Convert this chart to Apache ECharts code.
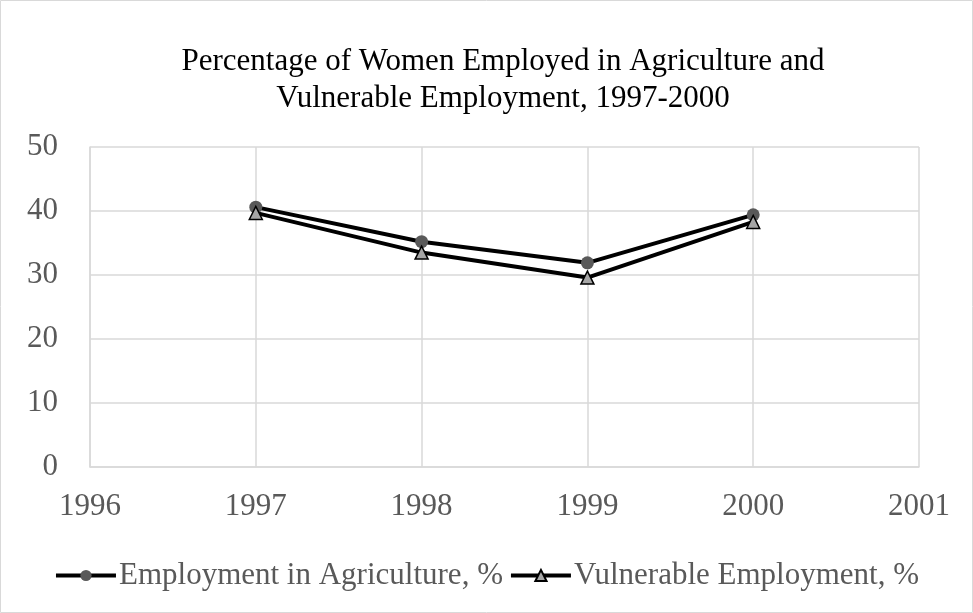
<!DOCTYPE html>
<html><head><meta charset="utf-8">
<script src="https://cdn.jsdelivr.net/npm/echarts@6/dist/echarts.min.js"></script>
<style>html,body{margin:0;padding:0;background:#fff}#c{width:973px;height:613px}</style>
</head><body><div id="c"></div>
<script>
const years = [1997, 1998, 1999, 2000];
const agriculture = [40.6, 35.2, 31.9, 39.4];
const vulnerable = [39.7, 33.5, 29.6, 38.3];
const xTicks = [1996, 1997, 1998, 1999, 2000, 2001];
const yTicks = [0, 10, 20, 30, 40, 50];

const chart = echarts.init(document.getElementById('c'));
const font = 'Liberation Serif, Times New Roman, serif';
chart.setOption({
  animation: false,
  graphic: [{type:'rect', shape:{x:0.5,y:0.5,width:972,height:612}, style:{fill:'none', stroke:'#d9d9d9', lineWidth:1}, silent:true}],
  title: {
    text: 'Percentage of Women Employed in Agriculture and\nVulnerable Employment, 1997-2000',
    left: 498, top: 38, textAlign: 'center',
    textStyle: {fontFamily: font, fontSize: 31, fontWeight: 'normal', color: '#000', lineHeight: 37}
  },
  grid: {left: 90, right: 54, top: 147, bottom: 146, containLabel: false},
  xAxis: {
    type: 'value', min: xTicks[0], max: xTicks[xTicks.length-1], interval: 1,
    axisLine: {show: true, lineStyle: {color: '#d9d9d9', width: 1.5}},
    axisTick: {show: false},
    splitLine: {show: true, lineStyle: {color: '#d9d9d9', width: 1.5}},
    axisLabel: {fontFamily: font, fontSize: 31, color: '#595959', margin: 24, formatter: v => String(v)}
  },
  yAxis: {
    type: 'value', min: yTicks[0], max: yTicks[yTicks.length-1], interval: 10,
    axisLine: {show: true, lineStyle: {color: '#d9d9d9', width: 1.5}},
    axisTick: {show: false},
    splitLine: {show: true, lineStyle: {color: '#d9d9d9', width: 1.5}},
    axisLabel: {fontFamily: font, fontSize: 31, color: '#595959', margin: 32}
  },
  legend: {
    top: 555, left: 'center', itemGap: 6, itemWidth: 60, itemHeight: 14,
    lineStyle: {width: 4, color: '#000'},
    textStyle: {fontFamily: font, fontSize: 31, color: '#595959', padding: [0, 0, 0, -2]},
    data: ['Employment in Agriculture, %', 'Vulnerable Employment, %']
  },
  series: [
    {
      name: 'Employment in Agriculture, %', type: 'line',
      data: years.map((y,i)=>[y, agriculture[i]]),
      symbol: 'circle', symbolSize: 13,
      lineStyle: {color: '#000', width: 4},
      itemStyle: {color: '#595959', borderWidth: 0}
    },
    {
      name: 'Vulnerable Employment, %', type: 'line',
      data: years.map((y,i)=>[y, vulnerable[i]]),
      symbol: 'triangle', symbolSize: 13,
      lineStyle: {color: '#000', width: 4},
      itemStyle: {color: '#a6a6a6', borderColor: '#000', borderWidth: 1.5}
    }
  ]
});
</script></body></html>
